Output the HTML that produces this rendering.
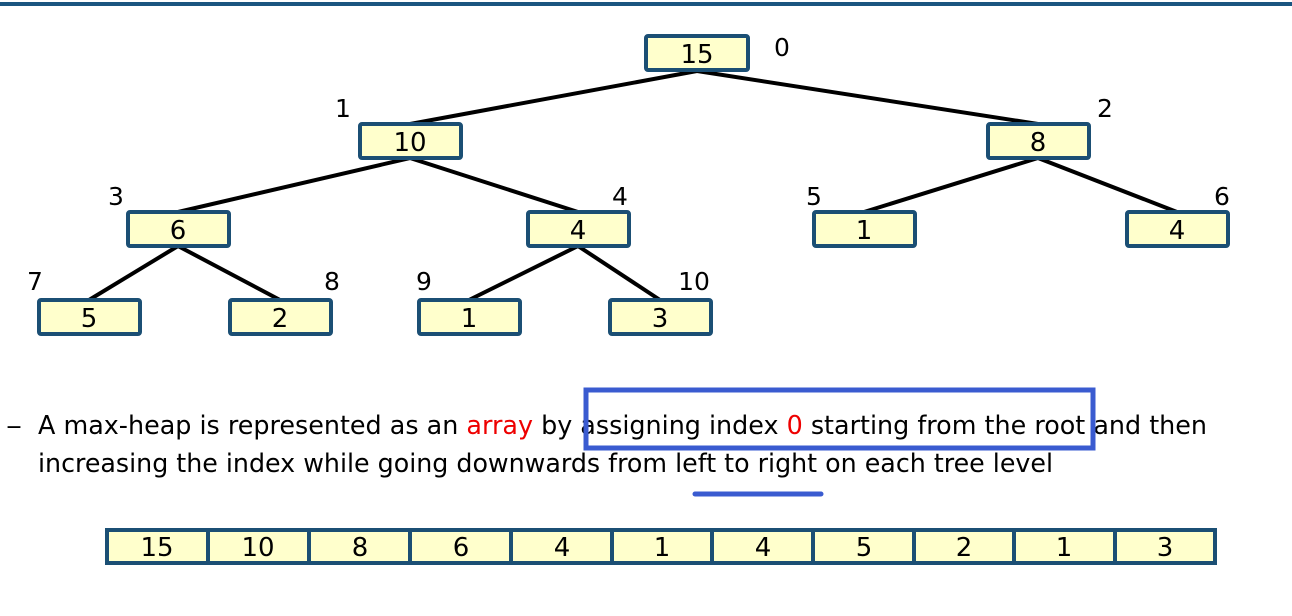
<!DOCTYPE html>
<html><head><meta charset="utf-8"><style>
html,body{margin:0;padding:0;background:#fff;}
svg{display:block;}
text{font-family:"DejaVu Sans","Liberation Sans",sans-serif;}
</style></head><body>
<svg width="1292" height="616" viewBox="0 0 1292 616" xmlns="http://www.w3.org/2000/svg">
<rect x="0" y="2" width="1292" height="4" fill="#1a5580"/>
<g stroke="#000" stroke-width="4" stroke-linecap="round">
<line x1="697" y1="71" x2="410" y2="124"/>
<line x1="697" y1="71" x2="1038" y2="124"/>
<line x1="410" y1="158" x2="178" y2="212"/>
<line x1="410" y1="158" x2="578" y2="212"/>
<line x1="1038" y1="158" x2="864" y2="212"/>
<line x1="1038" y1="158" x2="1177" y2="212"/>
<line x1="178" y1="246" x2="89" y2="300"/>
<line x1="178" y1="246" x2="280" y2="300"/>
<line x1="578" y1="246" x2="469" y2="300"/>
<line x1="578" y1="246" x2="660" y2="300"/>
</g>
<g fill="#ffffcc" stroke="#1b4f74" stroke-width="4">
<rect x="646" y="36" width="102" height="34" rx="2"/>
<rect x="360" y="124" width="101" height="34" rx="2"/>
<rect x="988" y="124" width="101" height="34" rx="2"/>
<rect x="128" y="212" width="101" height="34" rx="2"/>
<rect x="528" y="212" width="101" height="34" rx="2"/>
<rect x="814" y="212" width="101" height="34" rx="2"/>
<rect x="1127" y="212" width="101" height="34" rx="2"/>
<rect x="39" y="300" width="101" height="34" rx="2"/>
<rect x="230" y="300" width="101" height="34" rx="2"/>
<rect x="419" y="300" width="101" height="34" rx="2"/>
<rect x="610" y="300" width="101" height="34" rx="2"/>
</g>
<g font-size="26" text-anchor="middle" fill="#000">
<text x="697" y="63">15</text>
<text x="410" y="151">10</text>
<text x="1038" y="151">8</text>
<text x="178" y="239">6</text>
<text x="578" y="239">4</text>
<text x="864" y="239">1</text>
<text x="1177" y="239">4</text>
<text x="89" y="327">5</text>
<text x="280" y="327">2</text>
<text x="469" y="327">1</text>
<text x="660" y="327">3</text>
</g>
<g font-size="25" text-anchor="middle" fill="#000">
<text x="782" y="56">0</text>
<text x="343" y="117">1</text>
<text x="1105" y="117">2</text>
<text x="116" y="205">3</text>
<text x="620" y="205">4</text>
<text x="814" y="205">5</text>
<text x="1222" y="205">6</text>
<text x="35" y="290">7</text>
<text x="332" y="290">8</text>
<text x="424" y="290">9</text>
<text x="694" y="290">10</text>
</g>
<text x="6" y="434" font-size="26" fill="#000" textLength="16" lengthAdjust="spacingAndGlyphs">–</text>
<text x="38" y="434" font-size="26" fill="#000" textLength="1169" lengthAdjust="spacingAndGlyphs">A max-heap is represented as an <tspan fill="#ee0000">array</tspan> by assigning index <tspan fill="#ee0000">0</tspan> starting from the root and then</text>
<text x="38" y="472" font-size="26" fill="#000" textLength="1015" lengthAdjust="spacingAndGlyphs">increasing the index while going downwards from left to right on each tree level</text>
<rect x="586" y="390" width="507" height="58" fill="none" stroke="#3a5bd0" stroke-width="5"/>
<line x1="695" y1="494" x2="821" y2="494" stroke="#3a5bd0" stroke-width="5" stroke-linecap="round"/>
<g fill="#ffffcc" stroke="#1b4f74" stroke-width="4">
<rect x="107" y="530" width="1108" height="33"/>
</g>
<g stroke="#1b4f74" stroke-width="4">
<line x1="208" y1="530" x2="208" y2="563"/>
<line x1="309" y1="530" x2="309" y2="563"/>
<line x1="410" y1="530" x2="410" y2="563"/>
<line x1="511" y1="530" x2="511" y2="563"/>
<line x1="612" y1="530" x2="612" y2="563"/>
<line x1="712" y1="530" x2="712" y2="563"/>
<line x1="813" y1="530" x2="813" y2="563"/>
<line x1="914" y1="530" x2="914" y2="563"/>
<line x1="1014" y1="530" x2="1014" y2="563"/>
<line x1="1115" y1="530" x2="1115" y2="563"/>
</g>
<g font-size="26" text-anchor="middle" fill="#000">
<text x="157" y="556">15</text>
<text x="258" y="556">10</text>
<text x="360" y="556">8</text>
<text x="461" y="556">6</text>
<text x="562" y="556">4</text>
<text x="662" y="556">1</text>
<text x="763" y="556">4</text>
<text x="864" y="556">5</text>
<text x="964" y="556">2</text>
<text x="1064" y="556">1</text>
<text x="1165" y="556">3</text>
</g>
</svg>
</body></html>
